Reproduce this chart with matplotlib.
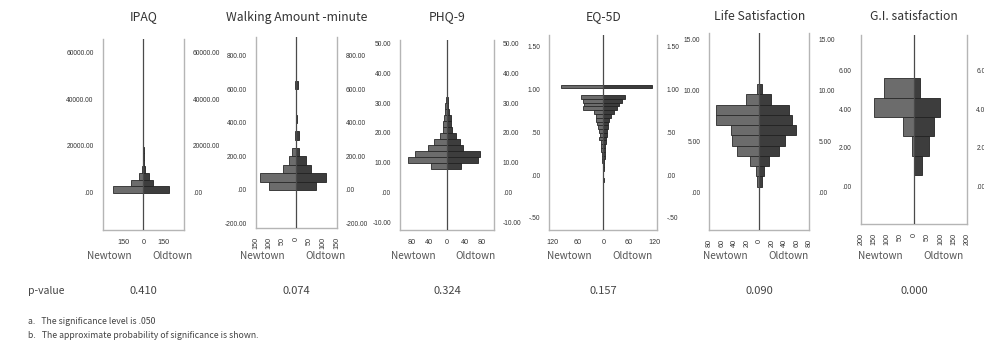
import numpy as np
import matplotlib.pyplot as plt
from matplotlib.ticker import FuncFormatter

titles = ["IPAQ", "Walking Amount -minute", "PHQ-9", "EQ-5D", "Life Satisfaction", "G.I. satisfaction"]
p_values = ["0.410", "0.074", "0.324", "0.157", "0.090", "0.000"]

# IPAQ (bin centers, counts)
ipaq_bins = [1400, 4200, 7000, 9800, 12600, 15400, 18200, 21000, 23800, 26600, 29400, 32200, 35000, 37800, 40600, 43400]
ipaq_new = [230, 92, 35, 12, 6, 3, 2, 1, 1, 0, 1, 0, 1, 0, 1, 0]
ipaq_old = [195, 75, 45, 14, 8, 4, 2, 1, 0, 1, 0, 1, 0, 1, 0, 1]

# Walking amount
walk_bins = [25, 75, 125, 175, 225, 325, 375, 425, 475, 625]
walk_new = [99, 134, 50, 27, 15, 5, 2, 1, 1, 6]
walk_old = [74, 109, 56, 37, 10, 10, 1, 2, 1, 6]

# PHQ-9
phq_bins = [9, 11, 13, 15, 17, 19, 21, 23, 25, 27, 29, 31, 33, 35, 37]
phq_new = [36, 88, 72, 44, 30, 17, 9, 8, 6, 5, 4, 2, 1, 0, 1]
phq_old = [33, 70, 75, 37, 30, 21, 11, 10, 8, 5, 3, 2, 1, 0, 1]

# EQ-5D
eq_bins = [1.03, 0.908, 0.864, 0.82, 0.776, 0.732, 0.688, 0.644, 0.6, 0.556, 0.512, 0.468, 0.424,
           0.38, 0.336, 0.292, 0.248, 0.204, 0.16, 0.116, 0.072, 0.028, -0.016, -0.06]
eq_new = [100, 52, 48, 46, 47, 22, 16, 18, 14, 13, 11, 8, 9, 6, 5, 5, 4, 3, 2, 1, 1, 1, 1, 1]
eq_old = [114, 51, 43, 37, 33, 24, 17, 13, 11, 11, 9, 8, 6, 6, 5, 4, 3, 3, 2, 1, 1, 0, 0, 1]

# Life satisfaction
life_bins = [1.1, 2.1, 3.1, 4.1, 5.1, 6.1, 7.1, 8.1, 9.1, 10.1]
life_new = [3, 5, 15, 35, 44, 45, 69, 70, 21, 3]
life_old = [4, 7, 16, 32, 41, 59, 52, 47, 18, 5]

# G.I. satisfaction
gi_bins = [1.1, 2.1, 3.1, 4.1, 5.1]
gi_new = [0, 9, 42, 150, 112]
gi_old = [29, 57, 75, 97, 22]

panels = [
    (ipaq_bins, ipaq_new, ipaq_old, 2800, 305, (-16000, 65800), [0, 20000, 40000, 60000], [-150, 0, 150], 0),
    (walk_bins, walk_new, walk_old, 50, 150, (-227, 913), [-200, 0, 200, 400, 600, 800], [-150, -100, -50, 0, 50, 100, 150], 90),
    (phq_bins, phq_new, phq_old, 2, 107, (-12.6, 51.2), [-10, 0, 10, 20, 30, 40, 50], [-80, -40, 0, 40, 80], 0),
    (eq_bins, eq_new, eq_old, 0.044, 127, (-0.64, 1.63), [-0.5, 0, 0.5, 1.0, 1.5], [-120, -60, 0, 60, 120], 0),
    (life_bins, life_new, life_old, 1, 80, (-3.65, 15.6), [0, 5, 10, 15], [-80, -60, -40, -20, 0, 20, 40, 60, 80], 90),
    (gi_bins, gi_new, gi_old, 1, 200, (-1.93, 7.84), [0, 2, 4, 6], [-200, -150, -100, -50, 0, 50, 100, 150, 200], 90),
]

# pixel boxes (x0, top, x1, bottom) on a 984x348 canvas
boxes = [(102.7, 39, 184, 230), (255.7, 37, 336.7, 228), (400, 40, 494, 230),
         (549.3, 35, 657.3, 230), (709.3, 33, 809.3, 230), (860.7, 35, 967.3, 224)]

W, H = 984.0, 348.0
TXT = ["Noto Sans CJK KR", "DejaVu Sans"]


def spss_fmt(v, pos=None):
    s = "%.2f" % v
    if s.startswith("0."):
        s = s[1:]
    elif s.startswith("-0."):
        s = "-" + s[2:]
    return s


fig = plt.figure(figsize=(9.84, 3.48), dpi=100)

for i, (bins, new, old, h, xl, yl, yt, xt, rot) in enumerate(panels):
    x0, top, x1, bot = boxes[i]
    ax = fig.add_axes([x0 / W, 1 - bot / H, (x1 - x0) / W, (bot - top) / H])
    ax.barh(bins, -np.array(new), height=h, color="#6c6c6c", edgecolor="#2a2a2a", linewidth=0.6, zorder=2)
    ax.barh(bins, old, height=h, color="#3d3d3d", edgecolor="#222222", linewidth=0.6, zorder=2)
    ax.axvline(0, color="#4a4a4a", lw=0.9, zorder=3)
    ax.set_xlim(-xl, xl)
    ax.set_ylim(*yl)
    ax.set_yticks(yt)
    ax.yaxis.set_major_formatter(FuncFormatter(spss_fmt))
    ax.set_xticks(xt)
    ax.set_xticklabels([str(abs(t)) for t in xt], rotation=rot)
    ax.tick_params(axis="y", left=False, right=False, labelleft=True, labelright=True,
                   labelsize=4.8, pad=3, labelcolor="#333333")
    ax.tick_params(axis="x", bottom=False, labelsize=5.2, pad=3, labelcolor="#333333")
    for lab in ax.get_xticklabels() + ax.get_yticklabels():
        lab.set_family("Liberation Sans")
    ax.spines["top"].set_visible(False)
    for s in ["left", "right", "bottom"]:
        ax.spines[s].set_color("#b5b5b5")
        ax.spines[s].set_linewidth(1.0)

    cx = (x0 + x1) / 2
    fig.text(cx / W, 1 - 17 / H, titles[i], ha="center", va="center", fontsize=8.8,
             color="#333333", family=TXT)
    fig.text((cx - 34) / W, 1 - 256 / H, "Newtown", ha="center", va="center", fontsize=7.2,
             color="#555555", family=TXT)
    fig.text((cx + 29) / W, 1 - 256 / H, "Oldtown", ha="center", va="center", fontsize=7.2,
             color="#555555", family=TXT)
    fig.text(cx / W, 1 - 291 / H, p_values[i], ha="center", va="center", fontsize=8,
             color="#444444", family=TXT)

fig.text(28 / W, 1 - 291 / H, "p-value", ha="left", va="center", fontsize=7.5, color="#444444", family=TXT)
fig.text(28 / W, 1 - 322 / H, "a.   The significance level is .050", ha="left", va="center",
         fontsize=6.3, color="#444444", family=TXT)
fig.text(28 / W, 1 - 335 / H, "b.   The approximate probability of significance is shown.", ha="left",
         va="center", fontsize=6.3, color="#444444", family=TXT)

fig.savefig("out.png", dpi=100)
